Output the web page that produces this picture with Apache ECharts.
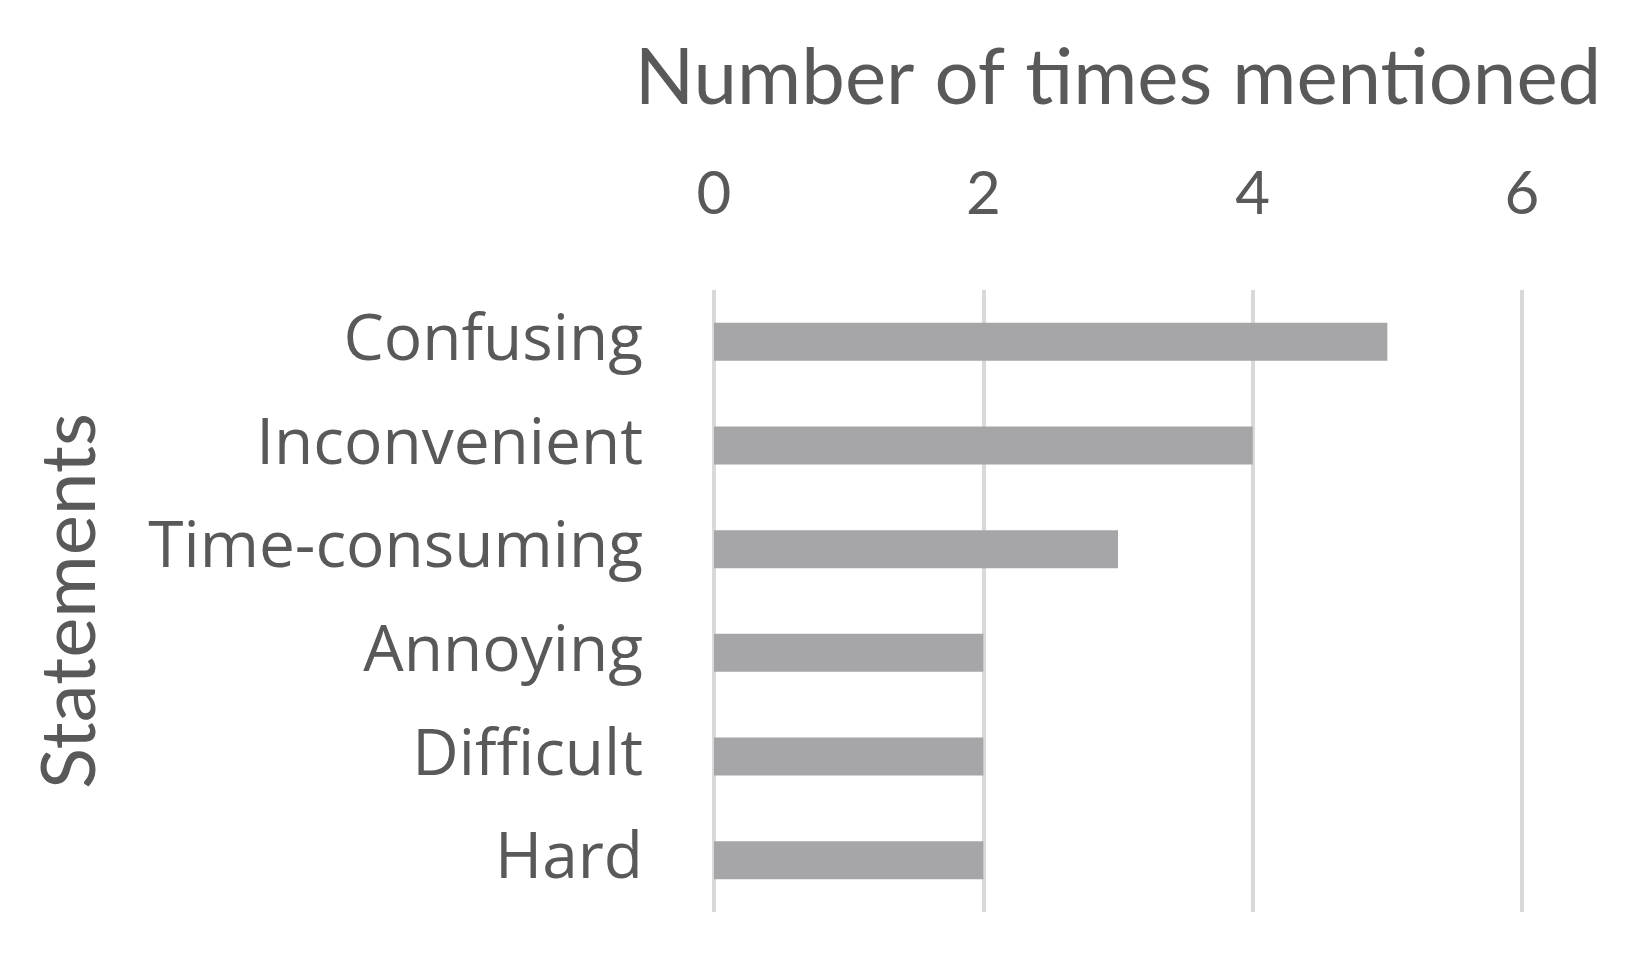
<!DOCTYPE html>
<html>
<head>
<meta charset="utf-8">
<script src="https://cdn.jsdelivr.net/npm/echarts@6/dist/echarts.min.js"></script>
<style>
  html, body { margin: 0; padding: 0; background: #fff; }
  #chart { width: 1644px; height: 971px; }
</style>
</head>
<body>
<div id="chart"></div>
<script>
const categories = ['Confusing', 'Inconvenient', 'Time-consuming', 'Annoying', 'Difficult', 'Hard']
const mentions = [5, 4, 3, 2, 2, 2]
const xTicks = { min: 0, max: 6, interval: 2 }

const textColor = '#595959'
const fontFamily = 'Lato, "Open Sans", sans-serif'

const chart = echarts.init(document.getElementById('chart'))
chart.setOption({
  animation: false,
  grid: { left: 714, right: 122, top: 290, bottom: 59 },
  xAxis: {
    type: 'value',
    position: 'top',
    min: xTicks.min,
    max: xTicks.max,
    interval: xTicks.interval,
    name: 'Number of times mentioned',
    nameLocation: 'middle',
    nameGap: 172,
    nameTextStyle: { color: textColor, fontSize: 78, fontFamily },
    axisLine: { show: false },
    axisTick: { show: false },
    axisLabel: { color: textColor, fontSize: 60, fontFamily, margin: 65 },
    splitLine: { lineStyle: { color: '#d9d9d9', width: 4 } }
  },
  yAxis: {
    type: 'category',
    inverse: true,
    data: categories,
    name: 'Statements',
    nameLocation: 'middle',
    nameGap: 606,
    nameTextStyle: { color: textColor, fontSize: 76, fontFamily },
    axisLine: { show: false },
    axisTick: { show: false },
    axisLabel: { color: textColor, fontSize: 64, fontFamily: '"Open Sans", Lato, sans-serif', margin: 71 }
  },
  series: [{
    type: 'bar',
    data: mentions,
    barWidth: 38,
    itemStyle: { color: '#a6a6a8' }
  }]
})
</script>
</body>
</html>
